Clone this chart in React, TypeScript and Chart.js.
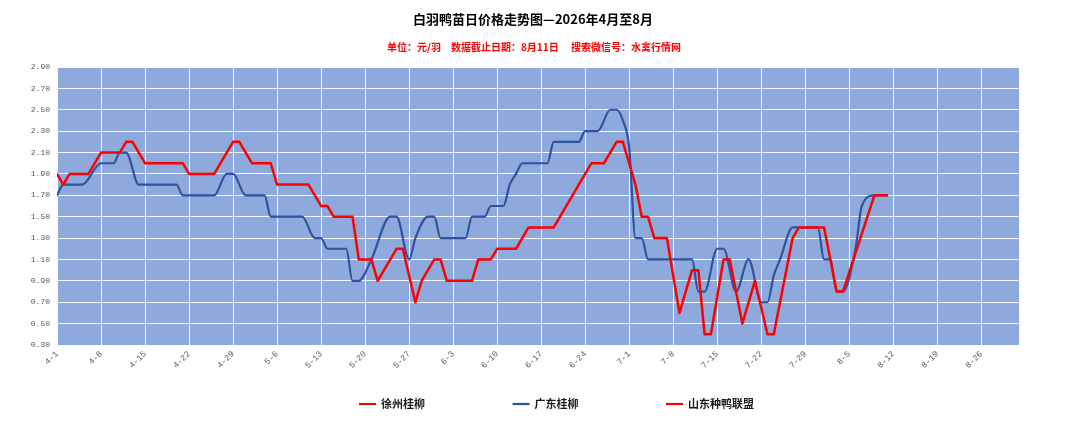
import React, { useEffect, useRef } from "react";
import { Chart, registerables } from "chart.js";

Chart.register(...registerables);

const TITLE = "白羽鸭苗日价格走势图—2026年4月至8月";
const SUBTITLE = "单位：元/羽\u3000数据截止日期：8月11日\u3000 搜索微信号：水禽行情网";

// x categories: every day from 4-1 to 9-1
const MONTHS = [4, 5, 6, 7, 8, 9];
const MONTH_DAYS = [30, 31, 30, 31, 31, 1];
const categories: string[] = [];
MONTHS.forEach((m, i) => {
  for (let d = 1; d <= MONTH_DAYS[i]; d++) categories.push(`${m}-${d}`);
});
const TICK_EVERY = 7;

// 徐州桂柳
const xuzhouDates = [
  "4-1", "4-2", "4-3", "4-6", "4-8", "4-11", "4-12", "4-13", "4-15", "4-21",
  "4-22", "4-26", "4-29", "4-30", "5-2", "5-5", "5-6", "5-11", "5-13", "5-14",
  "5-15", "5-18", "5-19", "5-21", "5-22", "5-25", "5-26", "5-28", "5-29", "5-31",
  "6-1", "6-2", "6-6", "6-7", "6-9", "6-10", "6-13", "6-15", "6-19", "6-25",
  "6-27", "6-29", "6-30", "7-1", "7-2", "7-3", "7-4", "7-5", "7-7", "7-9",
  "7-11", "7-12", "7-13", "7-14", "7-16", "7-17", "7-19", "7-21", "7-23", "7-24",
  "7-27", "7-28", "8-1", "8-2", "8-3", "8-4", "8-9", "8-11",
];
const xuzhouValues = [
  1.9, 1.8, 1.9, 1.9, 2.1, 2.1, 2.2, 2.2, 2.0, 2.0,
  1.9, 1.9, 2.2, 2.2, 2.0, 2.0, 1.8, 1.8, 1.6, 1.6,
  1.5, 1.5, 1.1, 1.1, 0.9, 1.2, 1.2, 0.7, 0.9, 1.1,
  1.1, 0.9, 0.9, 1.1, 1.1, 1.2, 1.2, 1.4, 1.4, 2.0,
  2.0, 2.2, 2.2, 2.0, 1.8, 1.5, 1.5, 1.3, 1.3, 0.6,
  1.0, 1.0, 0.4, 0.4, 1.1, 1.1, 0.5, 0.9, 0.4, 0.4,
  1.3, 1.4, 1.4, 1.1, 0.8, 0.8, 1.7, 1.7,
];

// 广东桂柳
const guangdongDates = [
  "4-1", "4-2", "4-5", "4-8", "4-10", "4-11", "4-12", "4-14", "4-20", "4-21",
  "4-26", "4-28", "4-29", "5-1", "5-4", "5-5", "5-10", "5-12", "5-13", "5-14",
  "5-17", "5-18", "5-19", "5-21", "5-24", "5-25", "5-27", "5-28", "5-30", "5-31",
  "6-1", "6-5", "6-6", "6-8", "6-9", "6-11", "6-12", "6-13", "6-14", "6-18",
  "6-19", "6-23", "6-24", "6-26", "6-28", "6-29", "6-30", "7-1", "7-2", "7-3",
  "7-4", "7-11", "7-12", "7-13", "7-15", "7-16", "7-18", "7-20", "7-22", "7-23",
  "7-24", "7-25", "7-27", "7-31", "8-1", "8-2", "8-3", "8-4", "8-6", "8-7",
  "8-9", "8-11",
];
const guangdongValues = [
  1.7, 1.8, 1.8, 2.0, 2.0, 2.1, 2.1, 1.8, 1.8, 1.7,
  1.7, 1.9, 1.9, 1.7, 1.7, 1.5, 1.5, 1.3, 1.3, 1.2,
  1.2, 0.9, 0.9, 1.1, 1.5, 1.5, 1.1, 1.3, 1.5, 1.5,
  1.3, 1.3, 1.5, 1.5, 1.6, 1.6, 1.8, 1.9, 2.0, 2.0,
  2.2, 2.2, 2.3, 2.3, 2.5, 2.5, 2.4, 2.15, 1.3, 1.3,
  1.1, 1.1, 0.8, 0.8, 1.2, 1.2, 0.8, 1.1, 0.7, 0.7,
  0.95, 1.1, 1.4, 1.4, 1.1, 1.1, 0.8, 0.8, 1.2, 1.6,
  1.7, 1.7,
];

// 山东种鸭联盟 (no visible values)
const shandongDates: string[] = [];
const shandongValues: number[] = [];

const Y_MIN = 0.3;
const Y_MAX = 2.9;
const Y_STEP = 0.2;

const SERIES = [
  { label: "徐州桂柳", dates: xuzhouDates, values: xuzhouValues, color: "#FF0000", width: 2.5, smooth: false },
  { label: "广东桂柳", dates: guangdongDates, values: guangdongValues, color: "#2E54A1", width: 2.2, smooth: true },
  { label: "山东种鸭联盟", dates: shandongDates, values: shandongValues, color: "#FF0000", width: 2.5, smooth: false },
];

const CJK = "'Noto Sans CJK SC', 'Noto Sans', sans-serif";
const TICK_FONT = "'Liberation Mono', 'DejaVu Sans Mono', monospace";

const plotBackground = {
  id: "plotBackground",
  beforeDraw(chart: any) {
    const { ctx, chartArea } = chart;
    if (!chartArea) return;
    ctx.save();
    ctx.fillStyle = "#8EA9DB";
    ctx.fillRect(chartArea.left, chartArea.top, chartArea.right - chartArea.left, chartArea.bottom - chartArea.top);
    ctx.restore();
  },
};

const headerText = {
  id: "headerText",
  afterDraw(chart: any) {
    const { ctx } = chart;
    ctx.save();
    ctx.textAlign = "center";
    ctx.textBaseline = "middle";
    ctx.fillStyle = "#000000";
    ctx.font = `bold 13px ${CJK}`;
    ctx.fillText(TITLE, 533, 19.5);
    ctx.fillStyle = "#FF0000";
    ctx.font = `bold 10px ${CJK}`;
    ctx.fillText(SUBTITLE, 534, 47);
    ctx.restore();
  },
};

const bottomLegend = {
  id: "bottomLegend",
  afterDraw(chart: any) {
    const { ctx } = chart;
    const startX = 359;
    const step = 153.5;
    const y = 404;
    ctx.save();
    ctx.font = `bold 11px ${CJK}`;
    ctx.textBaseline = "middle";
    ctx.textAlign = "left";
    chart.data.datasets.forEach((ds: any, i: number) => {
      const x = startX + i * step;
      ctx.strokeStyle = ds.borderColor;
      ctx.lineWidth = 2.2;
      ctx.beginPath();
      ctx.moveTo(x, y);
      ctx.lineTo(x + 17, y);
      ctx.stroke();
      ctx.fillStyle = "#1a1a1a";
      ctx.fillText(ds.label, x + 22, y);
    });
    ctx.restore();
  },
};

export default function App() {
  const canvasRef = useRef<HTMLCanvasElement | null>(null);

  useEffect(() => {
    document.body.style.margin = "0";
    const canvas = canvasRef.current;
    if (!canvas) return;
    const chart = new Chart(canvas, {
      type: "line",
      data: {
        datasets: SERIES.map((s) => ({
          label: s.label,
          data: s.dates.map((d, i) => ({ x: categories.indexOf(d), y: s.values[i] })),
          borderColor: s.color,
          backgroundColor: s.color,
          borderWidth: s.width,
          pointRadius: 0,
          pointHoverRadius: 0,
          fill: false,
          tension: s.smooth ? 0.4 : 0,
          cubicInterpolationMode: s.smooth ? "monotone" : "default",
          borderCapStyle: "round",
          borderJoinStyle: "round",
        })) as any,
      },
      options: {
        responsive: false,
        animation: false,
        layout: { padding: { left: 0, right: 61, top: 67, bottom: 44 } },
        plugins: {
          legend: { display: false },
          tooltip: { enabled: false },
          title: { display: false },
        },
        scales: {
          x: {
            type: "linear",
            min: 0,
            max: categories.length - 1,
            border: { display: false },
            grid: { drawTicks: false, lineWidth: 1, color: "rgba(255,255,255,0.9)" },
            ticks: {
              stepSize: TICK_EVERY,
              includeBounds: false,
              autoSkip: false,
              maxRotation: 45,
              minRotation: 45,
              padding: 4,
              color: "#595959",
              font: { family: TICK_FONT, size: 8.5 },
              callback: (v: any) => categories[Math.round(Number(v))] ?? "",
            },
            afterFit: (scale: any) => {
              scale.height = 40;
            },
          },
          y: {
            min: Y_MIN,
            max: Y_MAX,
            border: { display: false },
            grid: { drawTicks: false, color: "rgba(255,255,255,0.9)", lineWidth: 1 },
            ticks: {
              stepSize: Y_STEP,
              padding: 7,
              color: "#595959",
              font: { family: TICK_FONT, size: 8 },
              callback: (v: any) => Number(v).toFixed(2),
            },
            afterFit: (scale: any) => {
              scale.width = 57;
            },
          },
        },
      },
      plugins: [plotBackground, headerText, bottomLegend],
    });
    return () => chart.destroy();
  }, []);

  return (
    <div style={{ width: 1080, height: 429, background: "#ffffff" }}>
      <canvas ref={canvasRef} width={1080} height={429} />
    </div>
  );
}
